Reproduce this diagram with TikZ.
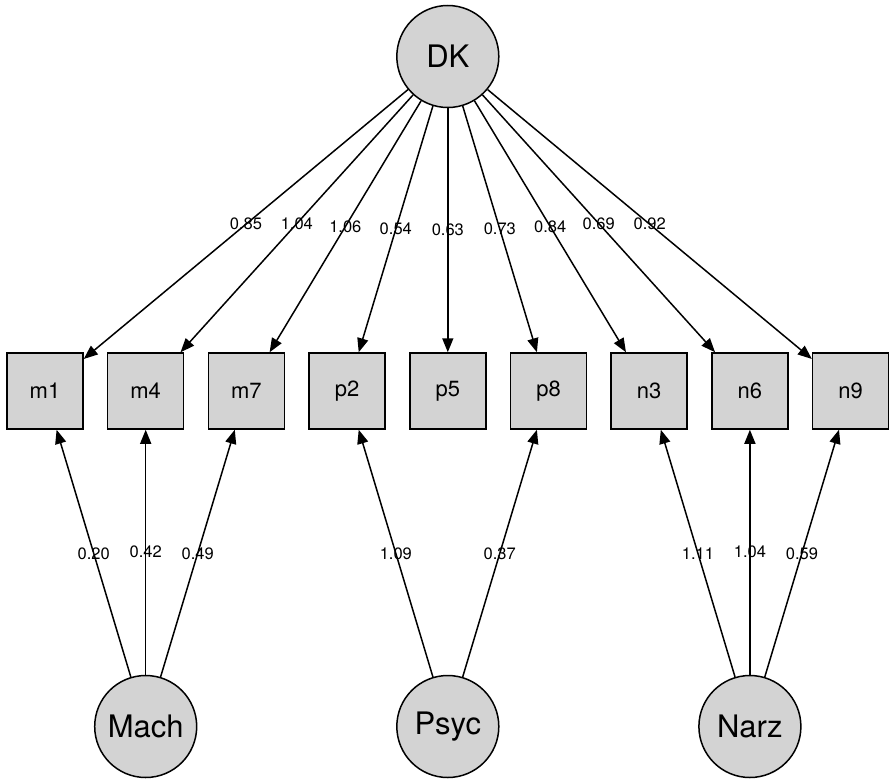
\documentclass[tikz,border=0pt]{standalone}
\usepackage{fontspec}
\setmainfont{TeX Gyre Heros}
\usepackage{tikz}
\usetikzlibrary{shapes,arrows.meta,positioning}

\definecolor{nodegray}{HTML}{D3D3D3}

\begin{document}
\begin{tikzpicture}[x=1pt, y=1pt, node distance = 23.2pt,
        latent/.style={circle, draw, fill=nodegray, line width=1.5pt, minimum size=102pt, inner sep=0pt, font=\fontsize{31}{34}\selectfont},
        indicator/.style={rectangle, draw, fill=nodegray, line width=1.5pt, minimum size=76pt, inner sep=0pt, font=\fontsize{22}{25}\selectfont},
        line/.style={draw, line width=1.5pt, -{Triangle[length=14pt, width=11pt]}},
        load/.style={midway, inner sep=0pt, font=\fontsize{16.5}{18}\selectfont}
    ]
        \useasboundingbox (0,0) rectangle (891,-779);
        % Indicators
        \node[indicator] (m1) at (45,-391) {m1};
        \node[indicator, right=of m1] (m4) {m4};
        \node[indicator, right=of m4] (m7) {m7};
        \node[indicator, right=of m7] (p2) {p2};
        \node[indicator, right=of p2] (p5) {p5};
        \node[indicator, right=of p5] (p8) {p8};
        \node[indicator, right=of p8] (n3) {n3};
        \node[indicator, right=of n3] (n6) {n6};
        \node[indicator, right=of n6] (n9) {n9};
        % General factor
        \node[latent, above=244pt of p5] (dk) {DK};
        % Specific factors
        \node[latent, below=245pt of m4] (mach) {Mach};
        \node[latent, below=245pt of p5] (psyc) {Psyc};
        \node[latent, below=245pt of n6] (narz) {Narz};
        % Loadings on DK
        \path[line] (dk) -- node[load] {0.85} (m1);
        \path[line] (dk) -- node[load] {1.04} (m4);
        \path[line] (dk) -- node[load] {1.06} (m7);
        \path[line] (dk) -- node[load] {0.54} (p2);
        \path[line] (dk) -- node[load] {0.63} (p5);
        \path[line] (dk) -- node[load] {0.73} (p8);
        \path[line] (dk) -- node[load] {0.84} (n3);
        \path[line] (dk) -- node[load] {0.69} (n6);
        \path[line] (dk) -- node[load] {0.92} (n9);
        % Loadings on specific factors
        \path[line] (mach) -- node[load] {0.20} (m1);
        \path[line] (mach) -- node[load] {0.42} (m4);
        \path[line] (mach) -- node[load] {0.49} (m7);
        \path[line] (psyc) -- node[load] {1.09} (p2);
        \path[line] (psyc) -- node[load] {0.37} (p8);
        \path[line] (narz) -- node[load] {1.11} (n3);
        \path[line] (narz) -- node[load] {1.04} (n6);
        \path[line] (narz) -- node[load] {0.59} (n9);
    \end{tikzpicture}
\end{document}
